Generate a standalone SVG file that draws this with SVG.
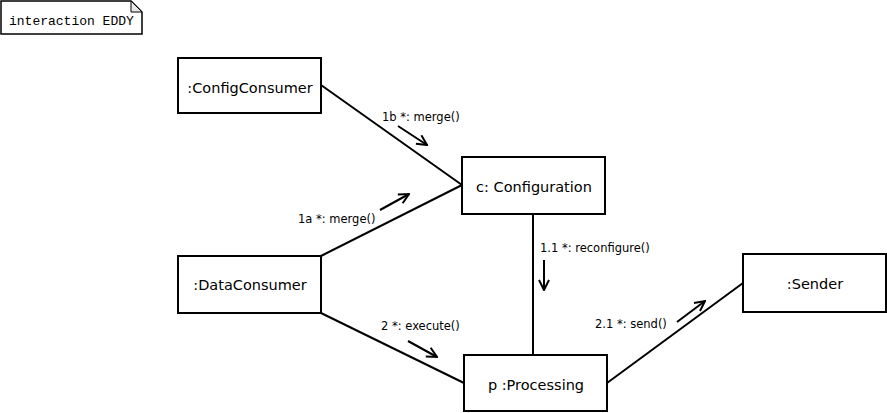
<svg xmlns="http://www.w3.org/2000/svg" width="887" height="413" viewBox="0 0 887 413">
<style>
.box{fill:#fff;stroke:#000;stroke-width:2}
.nl{font-family:"DejaVu Sans",Verdana,sans-serif;font-size:14.5px;text-anchor:middle;fill:#000}
.ml{font-family:"DejaVu Sans",Verdana,sans-serif;font-size:11.5px;fill:#000}
.link{stroke:#000;stroke-width:2;fill:none}
.msg{stroke:#000;stroke-width:2;fill:none;marker-end:url(#open)}
</style>
<defs>
<marker id="open" viewBox="0 0 12 12" refX="11" refY="6" markerWidth="12" markerHeight="12" markerUnits="userSpaceOnUse" orient="auto">
<path d="M1,1 L11,6 L1,11" fill="none" stroke="#000" stroke-width="2"/>
</marker>
</defs>
<rect width="887" height="413" fill="#fff"/>
<g id="frame">
<path d="M1,1 H131 L142,12 V34 H1 Z" fill="#fff" stroke="#000" stroke-width="1.5"/>
<path d="M131,1 V12 H142 Z" fill="#e8e8e8" stroke="#000" stroke-width="1"/>
<text x="9" y="25" font-family="'Liberation Mono','Courier New',monospace" font-size="13px">interaction EDDY</text>
</g>
<g id="connectors">
<line class="link" x1="321" y1="85" x2="462" y2="185"/>
<line class="link" x1="321" y1="256" x2="462" y2="185"/>
<line class="link" x1="321" y1="313" x2="464" y2="383"/>
<line class="link" x1="533" y1="214" x2="533" y2="355"/>
<line class="link" x1="607" y1="383" x2="743" y2="283"/>
<line class="msg" x1="398" y1="126" x2="427" y2="145"/>
<text class="ml" x="382" y="121">1b *: merge()</text>
<line class="msg" x1="380" y1="210" x2="409" y2="194"/>
<text class="ml" x="298" y="223">1a *: merge()</text>
<line class="msg" x1="544" y1="260" x2="544" y2="290"/>
<text class="ml" x="540" y="252">1.1 *: reconfigure()</text>
<line class="msg" x1="408" y1="341" x2="437" y2="357"/>
<text class="ml" x="381" y="330">2 *: execute()</text>
<line class="msg" x1="677" y1="322" x2="705" y2="301"/>
<text class="ml" x="595" y="328">2.1 *: send()</text>
</g>
<g id="ConfigConsumer">
<rect class="box" x="178" y="58" width="143" height="55"/>
<text class="nl" x="250" y="93">:ConfigConsumer</text>
</g>
<g id="DataConsumer">
<rect class="box" x="178" y="256" width="143" height="57"/>
<text class="nl" x="250" y="290">:DataConsumer</text>
</g>
<g id="Configuration">
<rect class="box" x="462" y="157" width="143" height="57"/>
<text class="nl" x="534" y="192">c: Configuration</text>
</g>
<g id="Processing">
<rect class="box" x="464" y="355" width="143" height="56"/>
<text class="nl" x="536" y="390">p :Processing</text>
</g>
<g id="Sender">
<rect class="box" x="743" y="254" width="143" height="58"/>
<text class="nl" x="815" y="289">:Sender</text>
</g>
</svg>
